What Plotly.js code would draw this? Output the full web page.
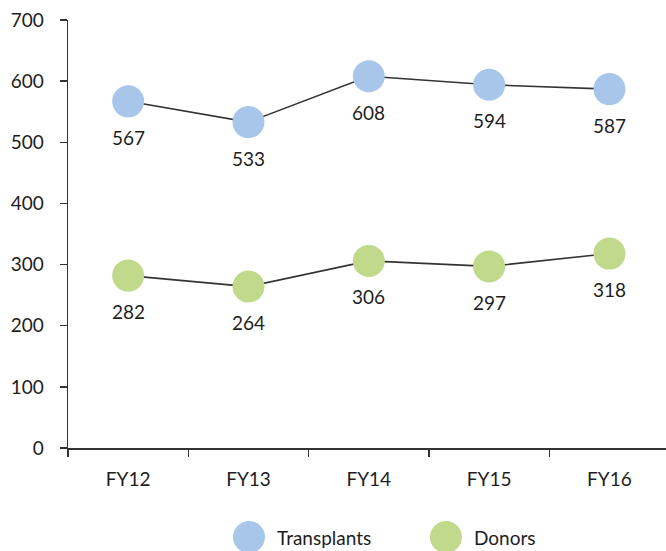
<!DOCTYPE html>
<html>
<head>
<meta charset="utf-8">
<script src="https://cdn.plot.ly/plotly-3.0.1.min.js"></script>
<style>html,body{margin:0;padding:0;background:#fff;}#chart{width:666px;height:551px;}</style>
</head>
<body>
<div id="chart"></div>
<script>
const categories = ["FY12", "FY13", "FY14", "FY15", "FY16"];
const transplants = [567, 533, 608, 594, 587];
const donors = [282, 264, 306, 297, 318];
const seriesNames = ["Transplants", "Donors"];
const seriesColors = ["#A7C6E9", "#C0D98A"];
const yTicks = [0, 100, 200, 300, 400, 500, 600, 700];

const FONT = "Lato, 'Liberation Sans', sans-serif";
const TXT = "#1e1e1e";

function series(vals, i) {
  return {
    x: categories, y: vals, type: "scatter", mode: "lines+markers",
    name: seriesNames[i],
    line: {color: "#333333", width: 1.6},
    marker: {size: 32, color: seriesColors[i]},
    cliponaxis: false, showlegend: false, hoverinfo: "x+y"
  };
}

const traces = [series(transplants, 0), series(donors, 1)];

const annotations = [];
[transplants, donors].forEach(vals => {
  vals.forEach((v, j) => {
    annotations.push({x: categories[j], y: v, xref: "x", yref: "y", text: String(v),
      showarrow: false, yshift: -36, xanchor: "center", yanchor: "middle",
      font: {family: FONT, size: 19, color: TXT}});
  });
});

// legend drawn manually (large markers)
const legendX = [0.3027, 0.632];
const legendY = -0.208;
const shapes = [];
seriesNames.forEach((n, i) => {
  shapes.push({type: "circle", xref: "paper", yref: "paper", xsizemode: "pixel", ysizemode: "pixel",
    xanchor: legendX[i], yanchor: legendY, x0: -16, x1: 16, y0: -16, y1: 16,
    fillcolor: seriesColors[i], line: {width: 0}});
  annotations.push({xref: "paper", yref: "paper", x: legendX[i], y: legendY, xshift: 26,
    xanchor: "left", yanchor: "middle", text: n, showarrow: false,
    font: {family: FONT, size: 19, color: TXT}});
});

const layout = {
  width: 666, height: 551,
  margin: {l: 68, r: 0, t: 20, b: 103},
  paper_bgcolor: "#fff", plot_bgcolor: "#fff",
  font: {family: FONT, size: 19, color: TXT},
  showlegend: false,
  xaxis: {
    type: "category", range: [-0.5, 4.47], showgrid: false, zeroline: false,
    showline: true, linecolor: "#333", linewidth: 1.5,
    ticks: "outside", tickson: "boundaries", ticklen: 7, tickcolor: "#333", tickwidth: 1.5,
    ticklabelstandoff: 14,
    tickfont: {family: FONT, size: 19, color: TXT}
  },
  yaxis: {
    range: [0, 700], tickvals: yTicks, showgrid: false, zeroline: false,
    showline: true, linecolor: "#333", linewidth: 1.5,
    ticks: "outside", ticklen: 7, tickcolor: "#333", tickwidth: 1.5,
    ticklabelstandoff: 12,
    tickfont: {family: FONT, size: 19, color: TXT}
  },
  shapes: shapes,
  annotations: annotations
};

Plotly.newPlot("chart", traces, layout, {displayModeBar: false, staticPlot: true});
</script>
</body>
</html>
